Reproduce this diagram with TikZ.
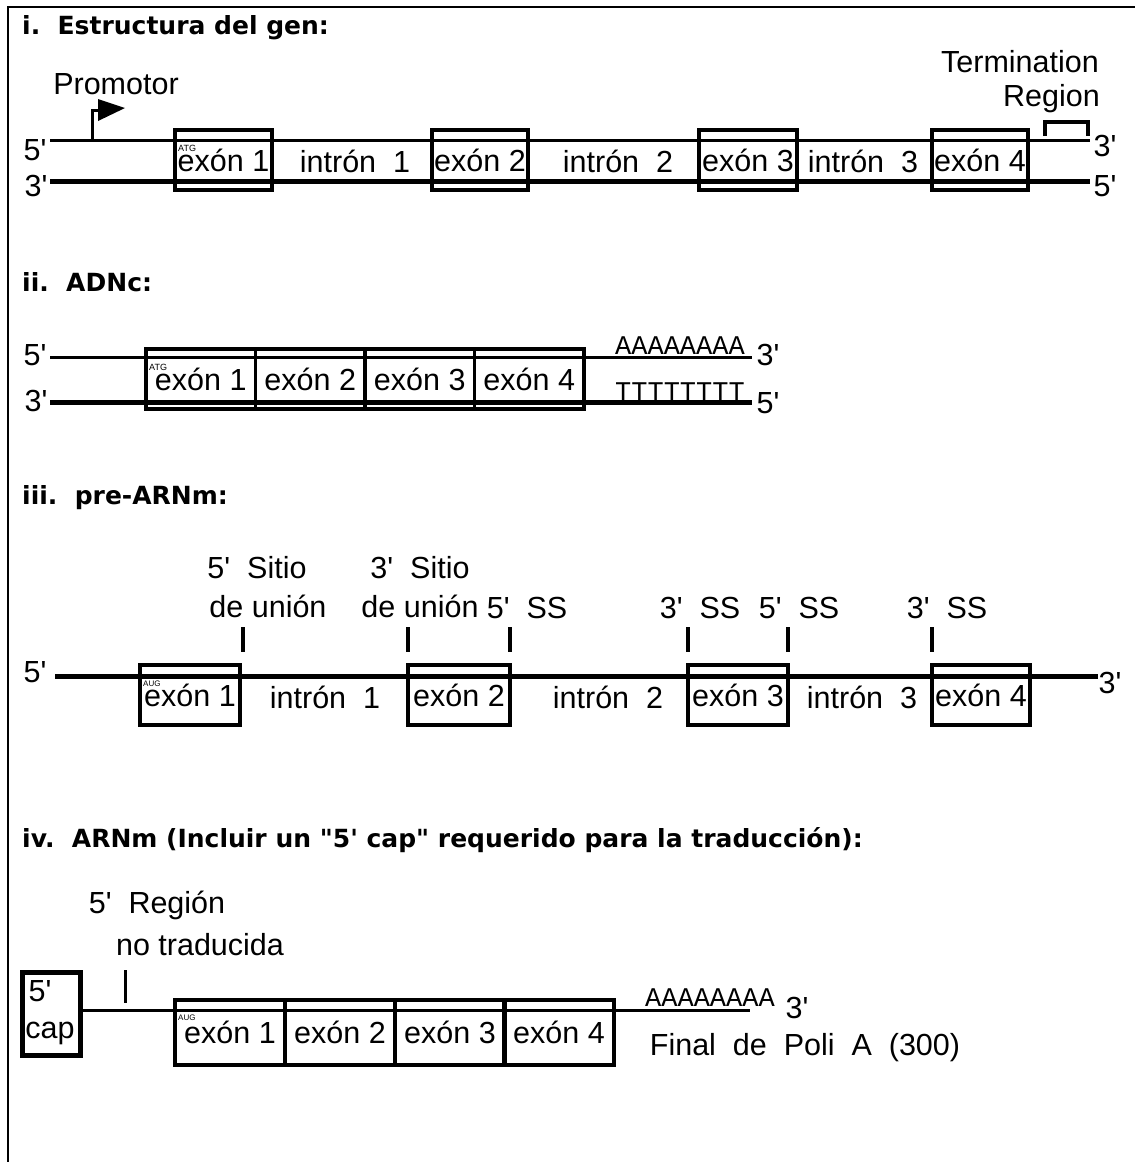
\documentclass[tikz,border=0pt]{standalone}
\usepackage{fontspec}
\setmainfont{Liberation Sans}
% families declared with \newfontfamily keep straight quote marks
\newfontfamily\labelfont{Liberation Sans}
\newfontfamily\headfont{DejaVu Sans}
\newfontfamily\polyfont{Liberation Mono}
\begin{document}
\begin{tikzpicture}[x=1pt,y=-1pt,
  lbl/.style={font=\labelfont\fontsize{30.5}{34}\selectfont, inner sep=0pt},
  head/.style={font=\headfont\bfseries\fontsize{25}{29}\selectfont, anchor=west, inner sep=0pt},
  strand/.style={line width=3pt},
  heavystrand/.style={line width=5pt},
  exon/.style={draw, line width=3.5pt, inner sep=0pt, minimum height=60pt,
    font=\labelfont\fontsize{30.5}{34}\selectfont},
  tickmark/.style={line width=4pt},
  codon/.style={font=\labelfont\fontsize{9}{10}\selectfont, inner sep=0pt, anchor=south west},
  poly/.style={font=\polyfont\fontsize{27}{30}\selectfont, inner sep=0pt, anchor=south}]

\useasboundingbox (0,0) rectangle (1135,1162);
% page frame, open on the right and bottom
\draw[line width=2pt] (8,1162) -- (8,7) -- (1135,7);

% ---------- i. gene structure ----------
\node[head] (hi) at (22,28) {i.\ \ Estructura del gen:};
\coordinate (a5) at (50,140);  \coordinate (a3) at (1090,140);
\coordinate (b3) at (50,181);  \coordinate (b5) at (1090,181);
\draw[strand] (a5) -- (a3);
\draw[heavystrand] (b3) -- (b5);
\node[lbl] (ia5) at (35,150) {5'};
\node[lbl] (ib3) at (36,186) {3'};
\node[lbl] (ia3) at (1105,146) {3'};
\node[lbl] (ib5) at (1105,186) {5'};

\node[exon, minimum width=97pt] (ie1) at (223.5,160) {exón 1};
\node[exon, minimum width=96pt] (ie2) at (480,160) {exón 2};
\node[exon, minimum width=98pt] (ie3) at (748,160) {exón 3};
\node[exon, minimum width=96pt] (ie4) at (980,160) {exón 4};
\node[codon] (iatg) at (178,152) {ATG};
\node[lbl] (ii1) at (355,161) {intrón\ \ 1};
\node[lbl] (ii2) at (618,161) {intrón\ \ 2};
\node[lbl] (ii3) at (863,161) {intrón\ \ 3};

% promoter flag
\coordinate (pbase) at (92,140);
\coordinate (ptop) at (92,110);
\draw[line width=3pt] (pbase) -- (ptop) -- ++(7,0);
\fill (98,99) -- (125,108) -- (98,121) -- cycle;
\node[lbl] (prom) at (116,84) {Promotor};

% termination region
\coordinate (t1) at (1045,136);
\coordinate (t2) at (1088,136);
\draw[line width=4pt] (t1) -- ++(0,-14) -| (t2);
\node[lbl, anchor=east] (term) at (1099,62) {Termination};
\node[lbl, anchor=east] (reg) at (1100,99) {Region};

% ---------- ii. cDNA ----------
\node[head] (hii) at (22,282) {ii.\ \ ADNc:};
\coordinate (c5) at (50,357);  \coordinate (c3) at (752,357);
\coordinate (d3) at (50,402);  \coordinate (d5) at (752,402);
\draw[strand] (c5) -- (c3);
\draw[heavystrand] (d3) -- (d5);
\node[lbl] (iic5) at (35,355) {5'};
\node[lbl] (iid3) at (36,401) {3'};
\foreach \n/\x in {1/200.75,2/310.25,3/419.75,4/529.25}
  \node[exon, minimum width=109.5pt] (ce\n) at (\x,379) {exón \n};
\node[codon] (catg) at (149,371) {ATG};
\node[poly] (cpa) at (680,355) {AAAAAAAA};
\node[poly] (cpt) at (680,401) {TTTTTTTT};
\node[lbl] (iic3) at (768,355) {3'};
\node[lbl] (iid5) at (768,403) {5'};

% ---------- iii. pre-mRNA ----------
\node[head] (hiii) at (22,498) {iii.\ \ pre-ARNm:};
\coordinate (p5) at (55,676);  \coordinate (p3) at (1098,676);
\draw[heavystrand] (p5) -- (p3);
\node[lbl] (iip5) at (35,672) {5'};
\node[lbl] (iip3) at (1110,683) {3'};
\node[exon, minimum width=100pt] (pe1) at (190,695) {exón 1};
\node[exon, minimum width=102pt] (pe2) at (459,695) {exón 2};
\node[exon, minimum width=100pt] (pe3) at (738,695) {exón 3};
\node[exon, minimum width=98pt]  (pe4) at (981,695) {exón 4};
\node[codon, font=\labelfont\fontsize{8}{9}\selectfont] (paug) at (143,687) {AUG};
\node[lbl] (pi1) at (325,697) {intrón\ \ 1};
\node[lbl] (pi2) at (608,697) {intrón\ \ 2};
\node[lbl] (pi3) at (862,697) {intrón\ \ 3};
% splice-site ticks
\foreach \k/\x in {1/243,2/408,3/510,4/688,5/788,6/932} {
  \coordinate (st\k) at (\x,627);
  \coordinate (sb\k) at (\x,652);
  \draw[tickmark] (st\k) -- (sb\k);
}
\node[lbl] (s1a) at (257,568) {5'\ \ Sitio};
\node[lbl] (s1b) at (268,606) {de unión};
\node[lbl] (s2a) at (420,568) {3'\ \ Sitio};
\node[lbl] (s2b) at (420,606) {de unión};
\node[lbl] (s3) at (527,608) {5'\ \ SS};
\node[lbl] (s4) at (700,608) {3'\ \ SS};
\node[lbl] (s5) at (799,608) {5'\ \ SS};
\node[lbl] (s6) at (947,608) {3'\ \ SS};

% ---------- iv. mRNA ----------
\node[head] (hiv) at (22,840) {iv.\ \ ARNm (Incluir un "5' cap" requerido para la traducción):};
\node[draw, line width=5pt, minimum width=58pt, minimum height=83pt, inner sep=0pt] (cap) at (51,1013.5) {};
\node[lbl] (cap5) at (40,991) {5'};
\node[lbl] (capw) at (50,1033) {cap};
\coordinate (m3) at (750,1010);
\draw[strand] (cap.east |- 0,1010) -- (m3);
\foreach \n/\x in {1/230,2/340,3/450,4/559}
  \node[exon, minimum width=110pt, minimum height=65pt] (me\n) at (\x,1032.5) {exón \n};
\node[codon, font=\labelfont\fontsize{8}{9}\selectfont] (maug) at (178,1021) {AUG};
\coordinate (ut) at (125,970);
\coordinate (ub) at (125,1003);
\draw[line width=3pt] (ut) -- (ub);
\node[lbl] (utr1) at (157,905) {5'\ \ Región};
\node[lbl] (utr2) at (200,945) {no traducida};
\node[poly] (mpa) at (710,1007) {AAAAAAAA};
\node[lbl] (m3l) at (797,1008) {3'};
\node[lbl] (tail) at (805,1048) {Final\ \ de\ \ Poli\ \ A\ \ (300)};
\end{tikzpicture}
\end{document}
